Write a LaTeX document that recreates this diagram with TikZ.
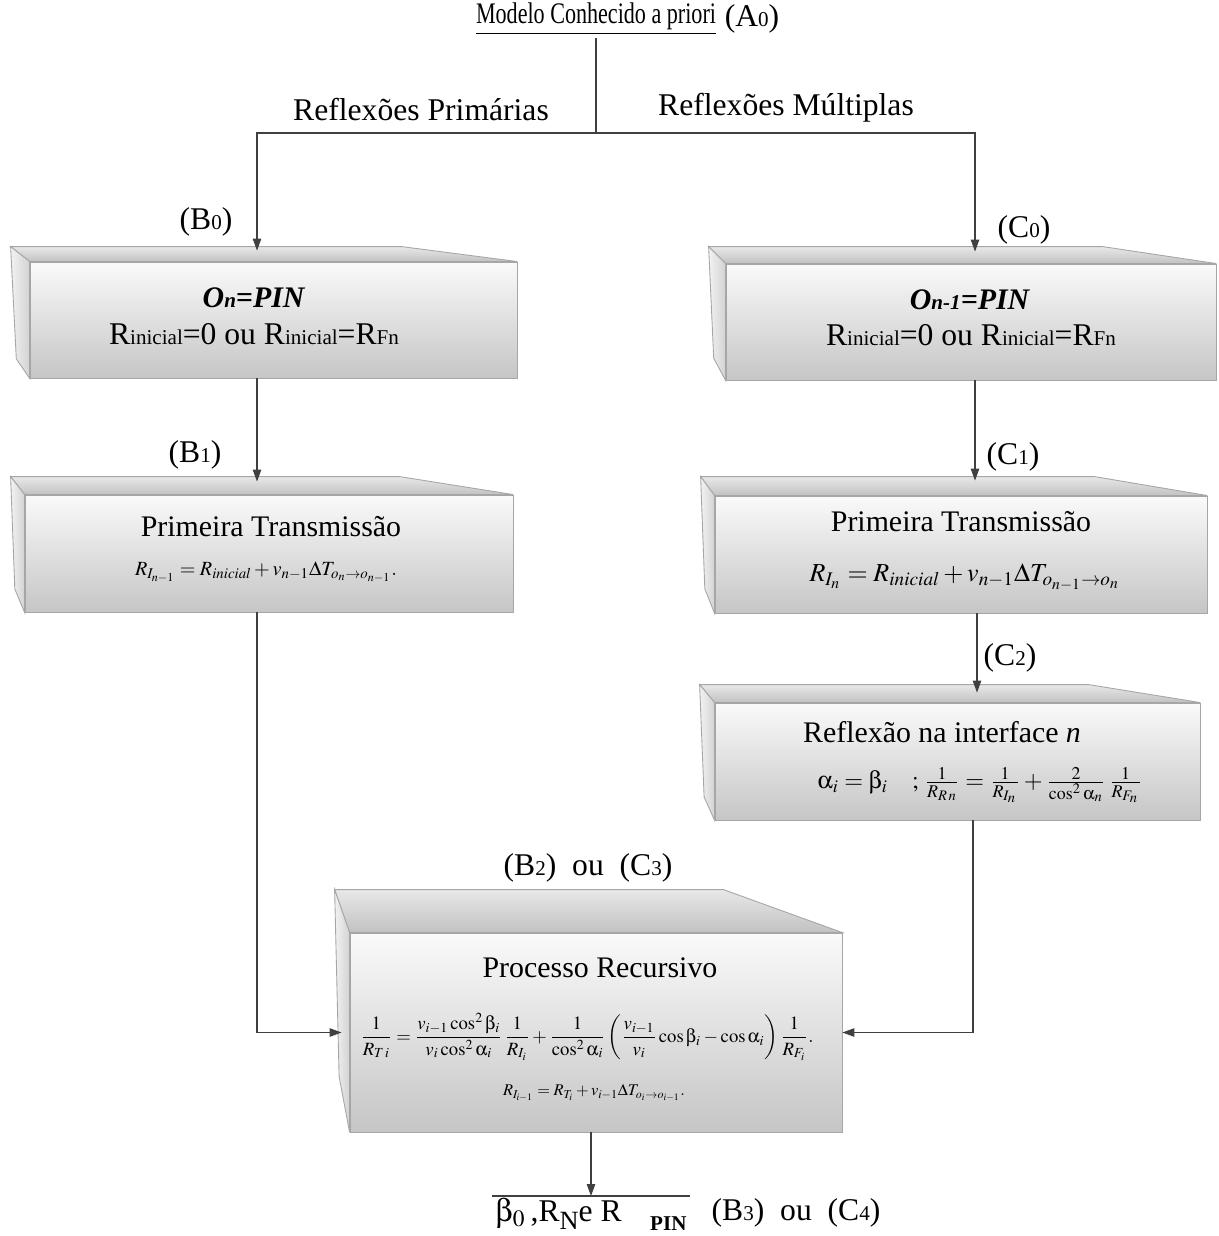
\documentclass[tikz,border=0pt]{standalone}
\usepackage{mathptmx}
\usepackage[Symbol]{upgreek}
\usepackage[no-math]{fontspec}
\setmainfont{Liberation Serif}
\newfontfamily\narrowfont[FakeStretch=0.74]{Liberation Serif}
\usepackage{graphicx}
\usetikzlibrary{arrows.meta,calc}

\newcommand\lo[1]{{\fontsize{12}{12}\selectfont #1}}
\newcommand\bevel[4]{%
  \draw[topface] ($(#1.north west)+(-#2,-#3)$) -- ($(#1.north east)+(-#4,-#3)$) -- (#1.north east) -- (#1.north west) -- cycle;
  \draw[sideface] ($(#1.north west)+(-#2,-#3)$) -- (#1.north west) -- (#1.south west) -- ($(#1.south west)+(-0.7*#2,-1.3*#3)$) -- cycle;}

\tikzset{
  face/.style={draw=gray!70, line width=0.5pt, top color=gray!4, bottom color=gray!45, inner sep=0pt},
  topface/.style={draw=gray!70, line width=0.5pt, top color=gray!18, bottom color=gray!48},
  sideface/.style={draw=gray!70, line width=0.5pt, left color=gray!10, right color=gray!35},
  lbl/.style={font=\fontsize{18}{20}\selectfont, inner sep=1pt},
  head/.style={font=\fontsize{17}{20}\selectfont, inner sep=1pt},
  eq/.style={inner sep=1pt},
  link/.style={draw=black!75, line width=0.6pt},
  arr/.style={link, -{Triangle[length=2.4mm,width=1.7mm]}},
}

\begin{document}
\begin{tikzpicture}[x=0.02cm, y=-0.02cm]
\useasboundingbox (0,0) rectangle (1218,1236);

\node[inner sep=1pt] (apriori) at (596,19) {\narrowfont\fontsize{17}{20}\selectfont\underline{Modelo Conhecido a priori}};
\node[lbl] (a0) at (752,19) {(A\lo{0})};
\coordinate (split) at (596,133);
\node[lbl] (prim) at (421,110) {Reflexões Primárias};
\node[lbl] (mult) at (786,108) {Reflexões Múltiplas};

% front faces
\node[face, minimum width=9.74cm, minimum height=2.32cm] (B0) at (273.5,320) {};
\node[face, minimum width=9.76cm, minimum height=2.34cm] (B1) at (269,553.5) {};
\node[face, minimum width=9.8cm, minimum height=2.32cm] (C0) at (971,322) {};
\node[face, minimum width=9.84cm, minimum height=2.34cm] (C1) at (961,554.5) {};
\node[face, minimum width=9.7cm, minimum height=2.34cm] (C2) at (957.5,761.5) {};
\node[face, minimum width=9.84cm, minimum height=3.98cm] (P) at (596,1032.5) {};

\bevel{B0}{19}{15}{116}
\bevel{B1}{14}{18}{114}
\bevel{C0}{17}{17}{114}
\bevel{C1}{14}{19}{113}
\bevel{C2}{15}{18}{112}
\bevel{P}{15}{43}{119}

\node[head] (b0t) at (254,298) {\textbf{\textit{O\lo{n}=PIN}}};
\node[lbl] (b0r) at (254,334) {R\lo{inicial}=0 ou R\lo{inicial}=R\lo{Fn}};
\node[head] (c0t) at (970,300) {\textbf{\textit{O\lo{n-1}=PIN}}};
\node[lbl] (c0r) at (971,335) {R\lo{inicial}=0 ou R\lo{inicial}=R\lo{Fn}};

\node[head] (b1t) at (271,527) {Primeira Transmissão};
\node[eq] (b1f) at (266,572) {\resizebox{5.24cm}{!}{$R_{I_{n-1}} = R_{\mathit{inicial}} + v_{n-1}\Delta T_{o_n\to o_{n-1}}.$}};
\node[head] (c1t) at (961,522) {Primeira Transmissão};
\node[eq] (c1f) at (965,577) {\resizebox{6.22cm}{!}{$R_{I_n} = R_{\mathit{inicial}} + v_{n-1}\Delta T_{o_{n-1}\to o_n}$}};

\node[head] (c2t) at (942,732) {Reflexão na interface \textit{n}};
\node[eq] (c2f) at (980,785) {\resizebox{6.5cm}{!}{$\upalpha_i=\upbeta_i\quad;\,\frac{1}{R_{R\,n}}=\frac{1}{R_{I_n}}+\frac{2}{\cos^2\upalpha_n}\,\frac{1}{R_{F_n}}$}};

\node[head] (pt) at (600,968) {Processo Recursivo};
\node[eq] (pf1) at (587,1037) {\resizebox{9.06cm}{!}{$\displaystyle \frac{1}{R_{T\,i}}=\frac{v_{i-1}\cos^2\upbeta_i}{v_i\cos^2\upalpha_i}\,\frac{1}{R_{I_i}}+\frac{1}{\cos^2\upalpha_i}\left(\frac{v_{i-1}}{v_i}\cos\upbeta_i-\cos\upalpha_i\right)\frac{1}{R_{F_i}}.$}};
\node[eq] (pf2) at (594,1093) {\resizebox{3.64cm}{!}{$R_{I_{i-1}}=R_{T_i}+v_{i-1}\Delta T_{o_i\to o_{i-1}}.$}};

\node[lbl] (lb0) at (206,222) {(B\lo{0})};
\node[lbl] (lc0) at (1024,230) {(C\lo{0})};
\node[lbl] (lb1) at (195,455) {(B\lo{1})};
\node[lbl] (lc1) at (1013,457) {(C\lo{1})};
\node[lbl] (lc2) at (1010,658) {(C\lo{2})};
\node[lbl] (lb2) at (588,868) {(B\lo{2})\ \ ou\ \ (C\lo{3})};

\node[lbl, anchor=north, inner sep=1.5pt] (out) at (591,1196) {$\upbeta_{0}$\,,R\raisebox{-0.5ex}{\fontsize{15}{15}\selectfont N}e R\hspace{0.9em}\raisebox{-0.6ex}{\fontsize{12}{12}\selectfont\bfseries PIN}};
\draw[link] (out.north west) -- (out.north east);
\node[lbl] (lb3) at (796,1213) {(B\lo{3})\ \ ou\ \ (C\lo{4})};

% connectors
\draw[link] (apriori.south) -- (split);
\draw[arr, shorten >=0.22cm] (split) -| ([xshift=-0.33cm]B0.north);
\draw[arr, shorten >=0.24cm] (split) -| ([xshift=0.08cm]C0.north);
\draw[arr, shorten >=0.26cm] ([xshift=-0.33cm]B0.south) -- ([xshift=-0.33cm]B0.south |- B1.north);
\draw[arr, shorten >=0.3cm] ([xshift=0.08cm]C0.south) -- ([xshift=0.08cm]C0.south |- C1.north);
\draw[arr, shorten >=0.2cm] ([xshift=0.32cm]C1.south) -- ([xshift=0.32cm]C1.south |- C2.north);
\draw[arr, shorten >=0.16cm] ([xshift=-0.24cm]B1.south) |- (P.west);
\draw[arr] ([xshift=0.31cm]C2.south) |- (P.east);
\draw[arr] (P.south -| out.north) -- (out.north);
\end{tikzpicture}
\end{document}
